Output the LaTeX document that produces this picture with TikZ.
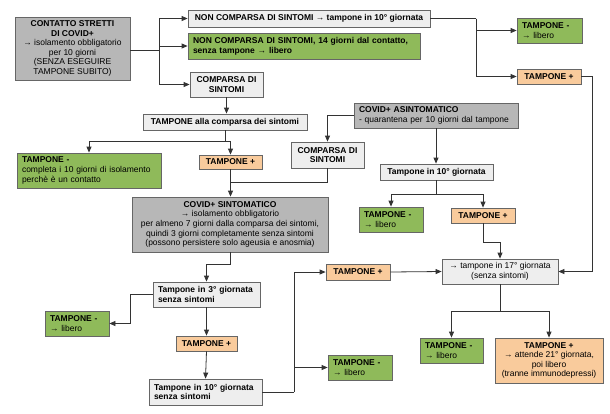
\documentclass[tikz,border=0pt]{standalone}
\usepackage{fontspec}
\setmainfont{Liberation Sans}
\usetikzlibrary{arrows.meta}
\definecolor{dg}{HTML}{B7B7B7}
\definecolor{lg}{HTML}{EEEEEE}
\definecolor{gr}{HTML}{8FBA5A}
\definecolor{orc}{HTML}{F9CB9C}
\definecolor{bordc}{HTML}{666666}
\definecolor{linec}{HTML}{333333}
\begin{document}
\begin{tikzpicture}[x=1pt,y=-1pt, font=\fontsize{8.5}{9.6}\selectfont,
 box/.style={draw=bordc, line width=0.8pt, inner xsep=5pt, inner ysep=1pt, align=center},
 dgb/.style={box, fill=dg}, lgb/.style={box, fill=lg}, grb/.style={box, fill=gr}, orb/.style={box, fill=orc},
 sz/.style 2 args={minimum width=#1, minimum height=#2},
 lft/.style={align=left, text width=#1},
 arr/.style={-{Triangle[length=6pt,width=5pt]}, draw=linec, line width=0.8pt},
 ln/.style={draw=linec, line width=0.8pt}]
\useasboundingbox (0,0) rectangle (610,413);
\node[dgb, sz={115pt}{63pt}] (contatto) at (72.5,48.5) {\textbf{CONTATTO STRETTI}\\\textbf{DI COVID+}\\→ isolamento obbligatorio\\per 10 giorni\\(SENZA ESEGUIRE\\TAMPONE SUBITO)};
\node[lgb, sz={242pt}{17pt}] (noncomp) at (309,18.5) {\textbf{NON COMPARSA DI SINTOMI → tampone in 10° giornata}};
\node[grb, sz={232pt}{26pt}, lft=222pt] (green14) at (304,46) {\textbf{NON COMPARSA DI SINTOMI, 14 giorni dal contatto,}\\\textbf{senza tampone → libero}};
\node[lgb, sz={73pt}{25pt}] (comp1) at (226.5,84.5) {\textbf{COMPARSA DI}\\\textbf{SINTOMI}};
\node[lgb, sz={164pt}{16pt}] (tampcomp) at (225,122) {\textbf{TAMPONE alla comparsa dei sintomi}};
\node[grb, sz={144pt}{35pt}, lft=134pt] (tneg1) at (89,170.5) {\textbf{TAMPONE -}\\completa i 10 giorni di isolamento\\perchè è un contatto};
\node[orb, sz={63pt}{14pt}] (tpos1) at (230.5,162) {\textbf{TAMPONE +}};
\node[lgb, sz={73pt}{26pt}] (comp2) at (327.5,155) {\textbf{COMPARSA DI}\\\textbf{SINTOMI}};
\node[dgb, sz={164pt}{25pt}, lft=154pt] (asint) at (436,115.5) {\textbf{COVID+ ASINTOMATICO}\\- quarantena per 10 giorni dal tampone};
\node[lgb, sz={113pt}{16pt}] (t10a) at (436.5,172) {\textbf{Tampone in 10° giornata}};
\node[grb, sz={64pt}{25pt}, lft=54pt] (tneg2) at (391,219.5) {\textbf{TAMPONE -}\\→ libero};
\node[orb, sz={64pt}{15pt}] (tpos2) at (483,215.5) {\textbf{TAMPONE +}};
\node[lgb, sz={116pt}{25pt}] (t17) at (500,271.5) {→ tampone in 17° giornata\\(senza sintomi)};
\node[grb, sz={63pt}{25pt}, lft=53pt] (tneg3) at (451.5,350.5) {\textbf{TAMPONE -}\\→ libero};
\node[orb, sz={108pt}{45pt}] (tpos3) at (549,360.5) {\textbf{TAMPONE +}\\→ attende 21° giornata,\\poi libero\\(tranne immunodepressi)};
\node[grb, sz={65pt}{25pt}, lft=55pt] (tnegTR) at (549.5,30.5) {\textbf{TAMPONE -}\\→ libero};
\node[orb, sz={64pt}{15pt}] (tposTR) at (549,76.5) {\textbf{TAMPONE +}};
\node[dgb, sz={196pt}{55pt}] (sint) at (230,224.5) {\textbf{COVID+ SINTOMATICO}\\→ isolamento obbligatorio\\per almeno 7 giorni dalla comparsa dei sintomi,\\quindi 3 giorni completamente senza sintomi\\(possono persistere solo ageusia e anosmia)};
\node[lgb, sz={107pt}{25pt}, lft=97pt] (t3) at (206.5,294.5) {\textbf{Tampone in 3° giornata}\\\textbf{senza sintomi}};
\node[grb, sz={64pt}{25pt}, lft=54pt] (tneg4) at (77,323.5) {\textbf{TAMPONE -}\\→ libero};
\node[orb, sz={61pt}{15pt}] (tpos4) at (206.5,343.5) {\textbf{TAMPONE +}};
\node[lgb, sz={113pt}{26pt}, lft=103pt] (t10b) at (205.5,392) {\textbf{Tampone in 10° giornata}\\\textbf{senza sintomi}};
\node[orb, sz={64pt}{16pt}] (tpos5) at (358,272) {\textbf{TAMPONE +}};
\node[grb, sz={64pt}{25pt}, lft=54pt] (tneg5) at (360,367.5) {\textbf{TAMPONE -}\\→ libero};
% connectors
\coordinate (j1) at (159,50);
\draw[ln] (contatto.east |- j1) -- (j1);
\draw[arr] (j1) |- (noncomp.west);
\draw[arr] (j1) |- (green14.west);
\draw[arr] (j1) |- (comp1.west);
\draw[ln] (noncomp.east) -- ++(46,0) coordinate (j2);
\draw[arr] (j2) |- (tnegTR.west);
\draw[arr] (j2) |- (tposTR.west);
\draw[arr] (tposTR.east) -- ++(11,0) |- (t17.east);
\draw[arr] (comp1.south) -- (comp1.south |- tampcomp.north);
\draw[ln] (tampcomp.south) -- ++(0,11) coordinate (j4);
\draw[arr] (j4) -| (tneg1.north);
\draw[arr] (j4) -| (tpos1.north);
\draw[arr] (tpos1.south) -- (tpos1.south |- sint.north);
\draw[arr] (asint.west) -| (comp2.north);
\draw[ln] (comp2.south) -- ++(0,14) -| (tpos1.south);
\draw[arr] (asint.south) -- (asint.south |- t10a.north);
\draw[ln] (t10a.south) -- ++(0,14) coordinate (j5);
\draw[arr] (j5) -| (tneg2.north);
\draw[arr] (j5) -| (tpos2.north);
\draw[arr] (tpos2.south) -- ++(0,19) -| (t17.north);
\draw[ln] (t17.south) -- ++(0,27) coordinate (j6);
\draw[arr] (j6) -| (tneg3.north);
\draw[arr] (j6) -| (tpos3.north);
\draw[arr] (sint.south) -- ++(0,12) -| (t3.north);
\draw[arr] (t3.west) -- ++(-22,0) |- (tneg4.east);
\draw[arr] (t3.south) -- (tpos4.north);
\draw[arr] (tpos4.south) -- (t10b.north);
\draw[ln] (t10b.east) -- ++(32,0) coordinate (j7);
\draw[arr] (j7) |- (tpos5.west);
\draw[arr] (j7) |- (tneg5.west);
\draw[arr] (tpos5.east) -- (t17.west);
\end{tikzpicture}
\end{document}
